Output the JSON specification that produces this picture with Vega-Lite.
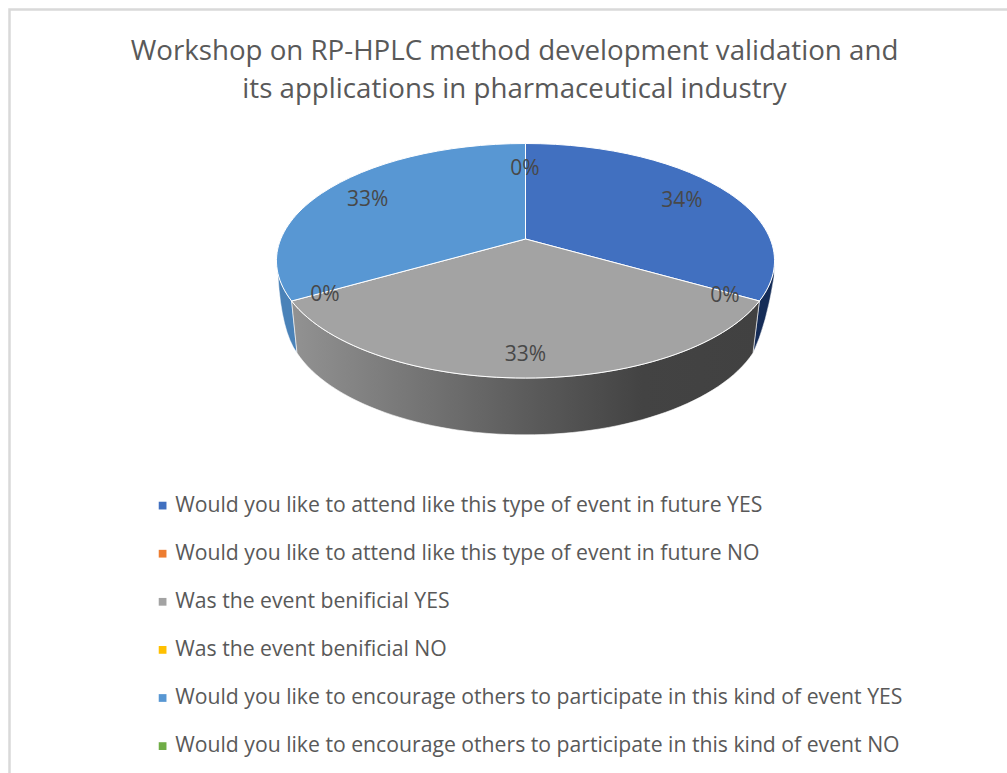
{
"$schema":"https://vega.github.io/schema/vega-lite/v6.json",
"width":1007,"height":773,"padding":0,"autosize":{"type":"none"},"background":"white",
"config":{"view":{"stroke":null}},
"title":{"text":["Workshop on RP-HPLC method development validation and","its applications in pharmaceutical industry"],"anchor":"middle","dx":11,"offset":-104,"font":"Open Sans","fontSize":27.7,"fontWeight":"normal","color":"#595959","lineHeight":38},
"data":{"values":[
{"category":"Would you like to attend like this type of event in future YES","share":0.34},
{"category":"Would you like to attend like this type of event in future NO","share":0},
{"category":"Was the event benificial YES","share":0.33},
{"category":"Was the event benificial NO","share":0},
{"category":"Would you like to encourage others to participate in this kind of event YES","share":0.33},
{"category":"Would you like to encourage others to participate in this kind of event NO","share":0}
]},
"resolve":{"legend":{"color":"independent"}},
"layer":[
{"data":{"values":[{"element":"chart area"}]},"mark":{"type":"point","filled":false,"opacity":1,"size":4,"shape":"M-494,386.5L-494,-377L503.5,-377","stroke":"#d9d9d9","strokeWidth":2.5}},
{"transform":[{"filter":"datum.category=='Would you like to encourage others to participate in this kind of event YES'"}],"mark":{"type":"point","filled":true,"opacity":1,"size":4,"shape":"M-226.5,-125.5L-225.5,-110Q-222,-55-206.5,-33.5L-211.9,-85.5A249,117.25 0 0 1 -226.5,-125.5Z","fill":"#4a82b8","stroke":"white","strokeWidth":0.5}},
{"transform":[{"filter":"datum.category=='Would you like to attend like this type of event in future YES'"}],"mark":{"type":"point","filled":true,"opacity":1,"size":4,"shape":"M271,-125L270.5,-109.5Q263,-62 249.5,-33.5L255.9,-85.5A249,117.25 0 0 0 271,-125Z","fill":"#152c57","stroke":"white","strokeWidth":0.5}},
{"transform":[{"filter":"datum.category=='Was the event benificial YES'"}],"mark":{"type":"point","filled":true,"opacity":1,"size":4,"shape":"M255.9,-85.5A249,117.25 0 0 1 -211.9,-85.5L-206.5,-33.5A240,119 0 0 0 249.5,-33.5Z","fill":{"gradient":"linear","x1":0,"x2":1,"y1":0,"y2":0,"stops":[{"offset":0,"color":"#929292"},{"offset":0.5,"color":"#5c5c5c"},{"offset":0.75,"color":"#434343"},{"offset":1,"color":"#414141"}]},"stroke":"white","strokeWidth":0.6}},
{"mark":{"type":"point","filled":true,"opacity":1,"size":4,"stroke":"white","strokeWidth":1},
"encoding":{
"color":{"field":"category","type":"nominal","sort":null,"legend":null,"scale":{"domain":["Would you like to attend like this type of event in future YES","Would you like to attend like this type of event in future NO","Was the event benificial YES","Was the event benificial NO","Would you like to encourage others to participate in this kind of event YES","Would you like to encourage others to participate in this kind of event NO"],"range":["#4170c0","#ed7d31","#a3a3a3","#ffc000","#5897d3","#70ad47"]}},
"shape":{"field":"category","type":"nominal","legend":null,"scale":{"domain":["Would you like to attend like this type of event in future YES","Would you like to attend like this type of event in future NO","Was the event benificial YES","Was the event benificial NO","Would you like to encourage others to participate in this kind of event YES","Would you like to encourage others to participate in this kind of event NO"],"range":["M22,-147.5L22,-243A249,117.25 0 0 1 255.9,-85.5Z","M22,-147.5Z","M22,-147.5L255.9,-85.5A249,117.25 0 0 1 -211.9,-85.5Z","M22,-147.5Z","M22,-147.5L-211.9,-85.5A249,117.25 0 0 1 22,-243Z","M22,-147.5Z"]}}
}},
{"mark":{"type":"point","filled":true,"opacity":1,"size":0,"shape":"square"},
"encoding":{
"color":{"field":"category","type":"nominal","sort":null,
"legend":{"orient":"none","legendX":152,"legendY":495,"title":null,"symbolType":"square","symbolSize":60,"symbolStrokeWidth":0,"labelFont":"Open Sans","labelFontSize":21.2,"labelColor":"#595959","labelLimit":900,"labelOffset":2,"rowPadding":26.1,"columns":1}}
}},
{"transform":[{"filter":"datum.category=='Would you like to attend like this type of event in future YES'"}],"mark":{"type":"text","font":"Open Sans","fontSize":21,"color":"#484848","dx":178.5,"dy":-186,"baseline":"middle"},"encoding":{"text":{"field":"share","type":"quantitative","format":".0%"}}},
{"transform":[{"filter":"datum.category=='Would you like to attend like this type of event in future NO'"}],"mark":{"type":"text","font":"Open Sans","fontSize":21,"color":"#484848","dx":221.5,"dy":-91,"baseline":"middle"},"encoding":{"text":{"field":"share","type":"quantitative","format":".0%"}}},
{"transform":[{"filter":"datum.category=='Was the event benificial YES'"}],"mark":{"type":"text","font":"Open Sans","fontSize":21,"color":"#484848","dx":22,"dy":-32,"baseline":"middle"},"encoding":{"text":{"field":"share","type":"quantitative","format":".0%"}}},
{"transform":[{"filter":"datum.category=='Was the event benificial NO'"}],"mark":{"type":"text","font":"Open Sans","fontSize":21,"color":"#484848","dx":-178.5,"dy":-92,"baseline":"middle"},"encoding":{"text":{"field":"share","type":"quantitative","format":".0%"}}},
{"transform":[{"filter":"datum.category=='Would you like to encourage others to participate in this kind of event YES'"}],"mark":{"type":"text","font":"Open Sans","fontSize":21,"color":"#484848","dx":-135.8,"dy":-187,"baseline":"middle"},"encoding":{"text":{"field":"share","type":"quantitative","format":".0%"}}},
{"transform":[{"filter":"datum.category=='Would you like to encourage others to participate in this kind of event NO'"}],"mark":{"type":"text","font":"Open Sans","fontSize":21,"color":"#484848","dx":21.5,"dy":-218,"baseline":"middle"},"encoding":{"text":{"field":"share","type":"quantitative","format":".0%"}}}
]
}
